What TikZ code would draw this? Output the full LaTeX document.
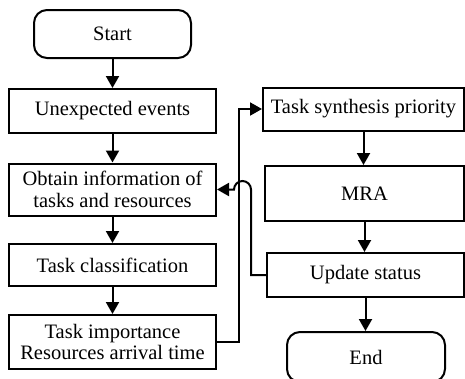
\documentclass[tikz,border=0pt]{standalone}
\usepackage{fontspec}
\setmainfont{Liberation Serif}
\usetikzlibrary{arrows.meta}
\begin{document}
\begin{tikzpicture}[x=1pt,y=-1pt,
  every node/.style={font=\fontsize{20.5}{21.5}\selectfont},
  box/.style={draw,line width=2pt,inner sep=0pt,align=center},
  term/.style={box,rounded corners=13pt},
  arr/.style={line width=2pt,-{Triangle[length=12pt,width=13pt]}}]
\clip (0,0) rectangle (465,378);
\node[term,minimum width=157pt,minimum height=48pt] (start) at (112.5,34) {Start};
\node[box,minimum width=207pt,minimum height=44pt] (ue) at (112.5,111) {Unexpected events};
\node[box,minimum width=207pt,minimum height=52pt] (obt) at (112.5,189.5) {Obtain information of\\tasks and resources};
\node[box,minimum width=207pt,minimum height=42pt] (tc) at (112.5,265) {Task classification};
\node[box,minimum width=207pt,minimum height=54pt] (ti) at (112.5,342) {Task importance\\Resources arrival time};
\node[box,minimum width=201pt,minimum height=43pt] (tsp) at (363.5,109) {Task synthesis priority};
\node[box,minimum width=199pt,minimum height=55pt] (mra) at (364.5,193.5) {MRA};
\node[box,minimum width=197pt,minimum height=44pt] (us) at (365.5,275) {Update status};
\node[term,minimum width=158pt,minimum height=50pt] (end) at (366,357) {End};
\draw[arr] (start) -- (ue);
\draw[arr] (ue) -- (obt);
\draw[arr] (obt) -- (tc);
\draw[arr] (tc) -- (ti);
\draw[arr] (tsp) -- (tsp.south |- mra.north);
\draw[arr] (mra) -- (mra.south |- us.north);
\draw[arr] (us) -- (us.south |- end.north);
\coordinate (c1) at (239,342);
\coordinate (c2) at (239,109);
\draw[arr] (ti.east) -- (c1) -- (c2) -- (tsp.west);
\coordinate (d1) at (251,275);
\coordinate (d2) at (251,189.5);
\draw[arr] (us.west) -- (d1) -- (d2) arc[start angle=0,end angle=-180,radius=8.5] -- (obt.east);
\end{tikzpicture}
\end{document}
